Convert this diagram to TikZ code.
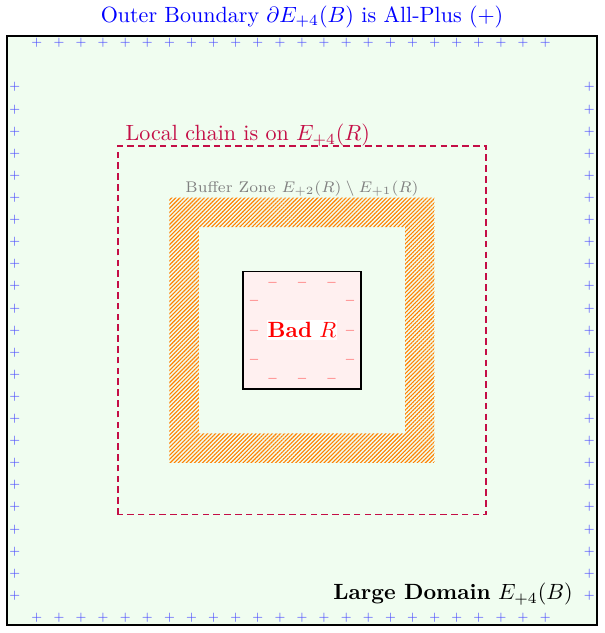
\documentclass[tikz,border=0pt]{standalone}
\usepackage{xcolor}
\usepackage{tikz}
\usepackage{amsmath}
\usetikzlibrary{patterns.meta}
\definecolor{chaincolor}{RGB}{196,14,70}
\definecolor{domaingreen}{RGB}{240,253,240}

\begin{document}
\begin{tikzpicture}[x=0.47cm,y=0.47cm,
    plusmark/.style={blue!70,font=\tiny,inner sep=0pt},
    minusmark/.style={red!65,font=\tiny,inner sep=0pt}]
\useasboundingbox (-10.25,-10.27) rectangle (10.25,11.21);

% Large domain
\draw[thick,fill=domaingreen] (-10,-10) rectangle (10,10);
\node[blue,above] (title) at (0,10) {Outer Boundary $\partial E_{+4}(B)$ is All-Plus $(+)$};
\node[anchor=base east] (domain) at (9.45,-9.14) {\textbf{Large Domain} $E_{+4}(B)$};

% Plus boundary
\foreach \t [count=\i] in {-9,-8.25,...,8.25} {
    \node[plusmark] (top-\i) at (\t,9.75) {$+$};
    \node[plusmark] (bot-\i) at (\t,-9.75) {$+$};
    \node[plusmark] (lft-\i) at (-9.75,\t) {$+$};
    \node[plusmark] (rgt-\i) at (9.75,\t) {$+$};
}

% Local chain
\draw[chaincolor,thick,dash pattern=on 3pt off 1.9pt] (-6.25,-6.25) rectangle (6.25,6.25);
\node[chaincolor,anchor=base west] (chain) at (-6.25,6.435) {Local chain is on $E_{+4}(R)$};

% Buffer zone
\fill[pattern={Lines[angle=45,distance=1.3pt,line width=0.5pt]},pattern color=orange,even odd rule]
    (-4.5,-4.5) rectangle (4.5,4.5) (-3.5,-3.5) rectangle (3.5,3.5);
\node[gray,font=\scriptsize,anchor=base] (buffer) at (0,4.67) {Buffer Zone $E_{+2}(R)\setminus E_{+1}(R)$};

% Bad box
\draw[thick,fill=red!6] (-2,-2) rectangle (2,2);
\foreach \t [count=\i] in {-1,0,1} {
    \node[minusmark] (mt-\i) at (\t,1.63) {$-$};
    \node[minusmark] (mb-\i) at (\t,-1.63) {$-$};
    \node[minusmark] (ml-\i) at (-1.63,\t) {$-$};
    \node[minusmark] (mr-\i) at (1.63,\t) {$-$};
}
\node[red,fill=white,inner xsep=0.5pt,inner ysep=1pt] (bad) at (0,0) {\textbf{Bad} $R$};
\end{tikzpicture}
\end{document}
